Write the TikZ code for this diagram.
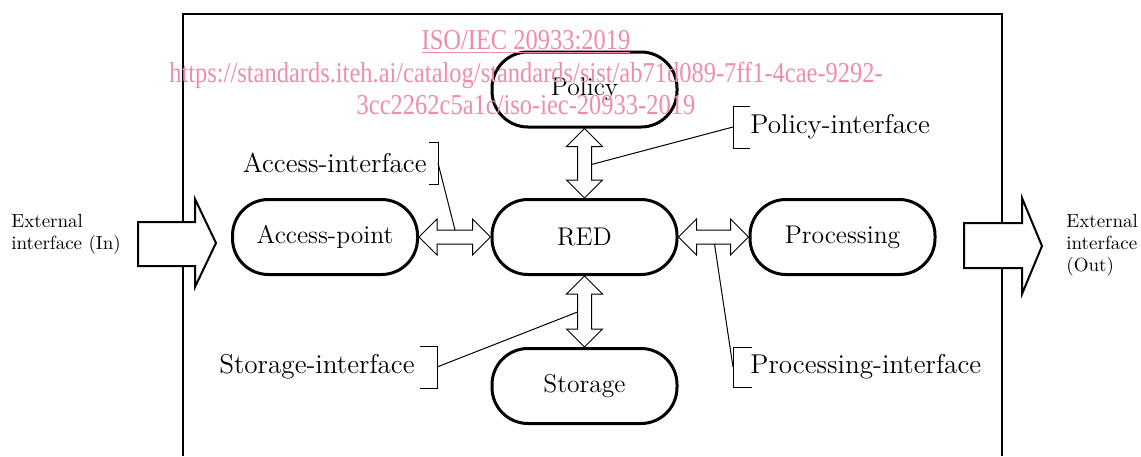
\documentclass[tikz,border=0pt]{standalone}
\usepackage{fontspec}
\usepackage{tikz}
\usetikzlibrary{positioning,calc}

\newfontfamily\wmfont[FakeStretch=0.85]{Liberation Serif}
\definecolor{wmpink}{RGB}{240,140,170}

% freccia doppia orizzontale / verticale tra due nodi
\newcommand{\doppiaO}[2]{%
  \draw[freccia] (#1.east) -- ++(18,-18) -- ++(0,11) -- ($(#2.west)+(-18,-7)$) -- ++(0,-11) -- (#2.west)
    -- ++(-18,18) -- ++(0,-11) -- ($(#1.east)+(18,7)$) -- ++(0,11) -- cycle;}
\newcommand{\doppiaV}[2]{%
  \draw[freccia] (#1.south) -- ++(-18,18) -- ++(11,0) -- ($(#2.north)+(-7,-18)$) -- ++(-11,0) -- (#2.north)
    -- ++(18,-18) -- ++(-11,0) -- ($(#1.south)+(7,18)$) -- ++(11,0) -- cycle;}

\begin{document}
\begin{tikzpicture}[x=0.5pt, y=-0.5pt,
    blocco/.style={draw, line width=1.5pt, rounded corners=18pt, minimum width=92.5pt, minimum height=37.5pt,
        font=\fontsize{12.8}{15}\selectfont},
    freccia/.style={fill=white, line width=0.5pt},
    etichetta/.style={font=\fontsize{13.6}{16}\selectfont, inner sep=0pt},
    esterno/.style={font=\fontsize{9.5}{11}\selectfont, align=left, inner sep=0pt},
    richiamo/.style={line width=0.5pt},
    filigrana/.style={text=wmpink, font=\wmfont\fontsize{14.4}{16}\selectfont, inner sep=0pt}]

        \useasboundingbox (0,0) rectangle (1141,456);

        % Riquadro esterno
        \draw[line width=1pt] (183,456) |- (1002,14) -- (1002,456);

        % Interfacce esterne
        \draw[line width=1pt, fill=white] (138,222) -- (195,222) -- (195,199) -- (216,243)
            -- (195,287) -- (195,266) -- (138,266) -- cycle;
        \draw[line width=1pt, fill=white] (964,223) -- (1022,223) -- (1022,198) -- (1042,246)
            -- (1022,294) -- (1022,268) -- (964,268) -- cycle;
        \node[esterno, anchor=north west] (ext_in) at (11,214) {External\\interface (In)};
        \node[esterno, anchor=north west] (ext_out) at (1066,214) {External\\interface\\(Out)};

        % Blocchi
        \node[blocco] (policy) at (584.5,89.5) {Policy};
        \node[blocco] (red) at (584.5,237) {RED};
        \node[blocco] (access) at (325,237) {Access-point};
        \node[blocco] (processing) at (842.5,237) {Processing};
        \node[blocco] (storage) at (584.5,386) {Storage};

        % Frecce doppie
        \doppiaO{access}{red}
        \doppiaO{red}{processing}
        \doppiaV{policy}{red}
        \doppiaV{red}{storage}

        % Etichette delle interfacce
        \node[etichetta, anchor=east] (access_if) at (427,163) {Access-interface};
        \draw[richiamo] ($(access_if.east)+(2,-21)$) -- ++(9,0) -- ++(0,42) -- ++(-9,0);
        \draw[richiamo] ($(access_if.east)+(11,0)$) -- ($(access.east)+(36,-7)$);

        \node[etichetta, anchor=east] (storage_if) at (415,367) {Storage-interface};
        \draw[richiamo] ($(storage_if.east)+(5,-21)$) -- ++(17,0) -- ++(0,42) -- ++(-17,0);
        \draw[richiamo] ($(storage_if.east)+(22,0)$) -- ($(red.south)+(-7,36)$);

        \node[etichetta, anchor=west] (policy_if) at (750,127) {Policy-interface};
        \draw[richiamo] ($(policy_if.west)+(0,-21)$) -- ++(-17,0) -- ++(0,42) -- ++(17,0);
        \draw[richiamo] ($(policy_if.west)+(-17,0)$) -- ($(policy.south)+(7,36)$);

        \node[etichetta, anchor=west] (processing_if) at (750,367) {Processing-interface};
        \draw[richiamo] ($(processing_if.west)+(2,-20)$) -- ++(-19,0) -- ++(0,40) -- ++(19,0);
        \draw[richiamo] ($(processing_if.west)+(-17,0)$) -- ($(red.east)+(36,7)$);

        % Filigrana
        \node[filigrana] (wm_title) at (526,42) {\underline{ISO/IEC 20933:2019}};
        \node[filigrana] (wm_url) at (526,75) {https://standards.iteh.ai/catalog/standards/sist/ab71d089-7ff1-4cae-9292-};
        \node[filigrana] (wm_doc) at (526,105) {3cc2262c5a1c/iso-iec-20933-2019};
\end{tikzpicture}
\end{document}
